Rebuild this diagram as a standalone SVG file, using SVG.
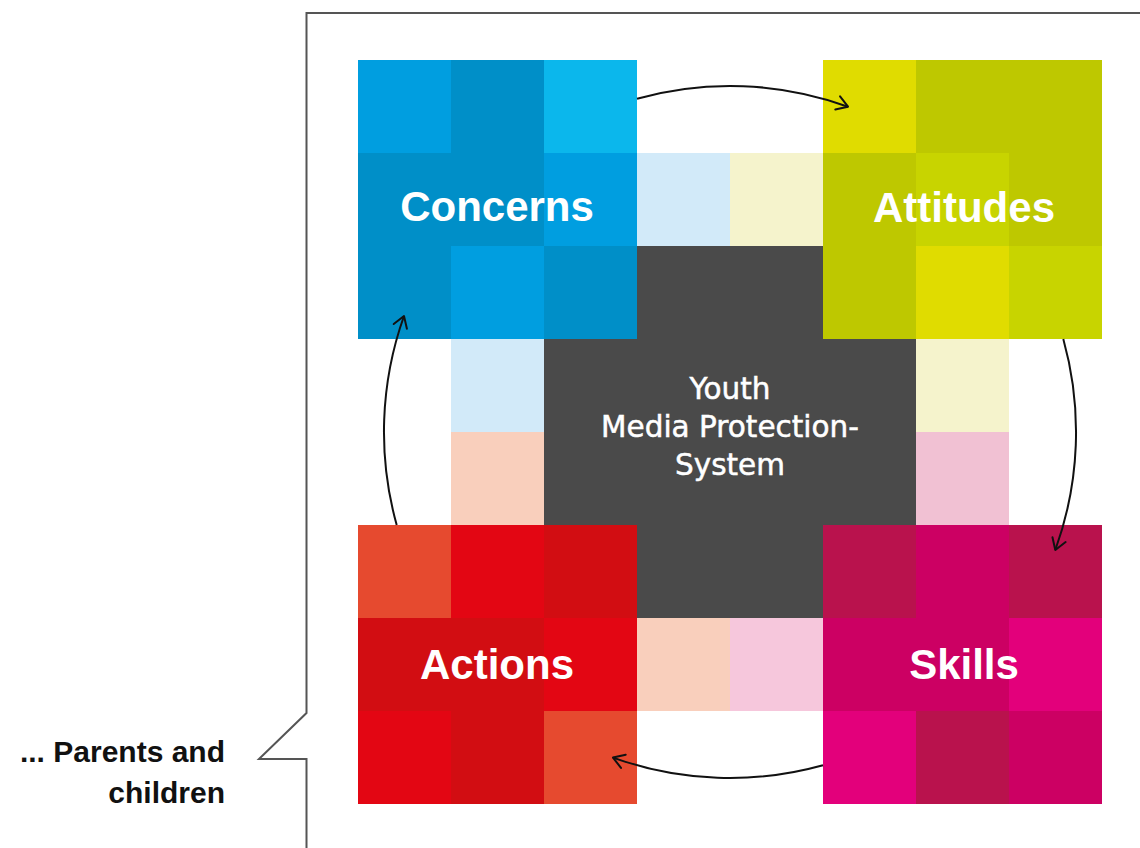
<svg xmlns="http://www.w3.org/2000/svg" width="1140" height="848" viewBox="0 0 1140 848">
  <style>
    .b1{fill:#009ee0}.b2{fill:#008fc8}.b3{fill:#0bb7ec}
    .y1{fill:#e0dc00}.y2{fill:#bec800}.y3{fill:#c8d400}
    .r1{fill:#e64a2f}.r2{fill:#e30613}.r3{fill:#d20d12}
    .m1{fill:#b9124d}.m2{fill:#cc0063}.m3{fill:#e3007b}
    .lb{fill:#d2eaf9}.ly{fill:#f5f3cc}.lp{fill:#f9cfbc}.lk{fill:#f1c1d3}.lq{fill:#f6c7dc}
    .dark{fill:#4a4a4a}
    .label{font-family:"Liberation Sans",Arial,sans-serif;font-weight:bold;font-size:42px;fill:#ffffff;text-anchor:middle}
    .core{font-family:"DejaVu Sans","Liberation Sans",sans-serif;font-size:29.5px;fill:#ffffff;stroke:#ffffff;stroke-width:0.5;text-anchor:middle}
    .note{font-family:"Liberation Sans",Arial,sans-serif;font-weight:bold;font-size:30px;fill:#111111;text-anchor:end}
    .frame{fill:none;stroke:#555555;stroke-width:2}
    .flow{fill:none;stroke:#111111;stroke-width:2}
  </style>
  <defs>
    <marker id="head" markerUnits="userSpaceOnUse" markerWidth="30" markerHeight="30" viewBox="-15 -15 30 30" refX="0" refY="0" orient="auto" overflow="visible">
      <path d="M-11,-7 L0,0 L-11,7" fill="none" stroke="#111111" stroke-width="2" stroke-linejoin="round" stroke-linecap="round"/>
    </marker>
  </defs>

  <rect width="1140" height="848" fill="#ffffff"/>

  <!-- frame with callout notch -->
  <g id="callout">
    <path class="frame" d="M1140,13 H306.5 V713 L259,759 H306.5 V848"/>
    <text class="note" x="225" y="762">... Parents and</text>
    <text class="note" x="225" y="803">children</text>
  </g>

  <!-- pale fill cells between the blocks -->
  <g id="fillers">
    <rect class="lb" x="637" y="153" width="93" height="93"/>
    <rect class="ly" x="730" y="153" width="93" height="93"/>
    <rect class="lb" x="451" y="339" width="93" height="93"/>
    <rect class="ly" x="916" y="339" width="93" height="93"/>
    <rect class="lp" x="451" y="432" width="93" height="93"/>
    <rect class="lk" x="916" y="432" width="93" height="93"/>
    <rect class="lp" x="637" y="618" width="93" height="93"/>
    <rect class="lq" x="730" y="618" width="93" height="93"/>
  </g>

  <!-- central system -->
  <g id="system">
    <path class="dark" d="M637,246 H823 V339 H916 V525 H823 V618 H637 V525 H544 V339 H637 Z"/>
    <text class="core" x="730" y="399">Youth</text>
    <text class="core" x="730" y="437">Media Protection-</text>
    <text class="core" x="730" y="475">System</text>
  </g>

  <g id="concerns">
    <rect class="b1" x="358" y="60" width="93" height="93"/>
    <rect class="b2" x="451" y="60" width="93" height="93"/>
    <rect class="b3" x="544" y="60" width="93" height="93"/>
    <rect class="b2" x="358" y="153" width="93" height="93"/>
    <rect class="b2" x="451" y="153" width="93" height="93"/>
    <rect class="b1" x="544" y="153" width="93" height="93"/>
    <rect class="b2" x="358" y="246" width="93" height="93"/>
    <rect class="b1" x="451" y="246" width="93" height="93"/>
    <rect class="b2" x="544" y="246" width="93" height="93"/>
    <text class="label" x="497" y="221">Concerns</text>
  </g>

  <g id="attitudes">
    <rect class="y1" x="823" y="60" width="93" height="93"/>
    <rect class="y2" x="916" y="60" width="93" height="93"/>
    <rect class="y2" x="1009" y="60" width="93" height="93"/>
    <rect class="y2" x="823" y="153" width="93" height="93"/>
    <rect class="y3" x="916" y="153" width="93" height="93"/>
    <rect class="y2" x="1009" y="153" width="93" height="93"/>
    <rect class="y2" x="823" y="246" width="93" height="93"/>
    <rect class="y1" x="916" y="246" width="93" height="93"/>
    <rect class="y3" x="1009" y="246" width="93" height="93"/>
    <text class="label" x="964" y="222">Attitudes</text>
  </g>

  <g id="actions">
    <rect class="r1" x="358" y="525" width="93" height="93"/>
    <rect class="r2" x="451" y="525" width="93" height="93"/>
    <rect class="r3" x="544" y="525" width="93" height="93"/>
    <rect class="r3" x="358" y="618" width="93" height="93"/>
    <rect class="r3" x="451" y="618" width="93" height="93"/>
    <rect class="r2" x="544" y="618" width="93" height="93"/>
    <rect class="r2" x="358" y="711" width="93" height="93"/>
    <rect class="r3" x="451" y="711" width="93" height="93"/>
    <rect class="r1" x="544" y="711" width="93" height="93"/>
    <text class="label" x="497" y="679">Actions</text>
  </g>

  <g id="skills">
    <rect class="m1" x="823" y="525" width="93" height="93"/>
    <rect class="m2" x="916" y="525" width="93" height="93"/>
    <rect class="m1" x="1009" y="525" width="93" height="93"/>
    <rect class="m2" x="823" y="618" width="93" height="93"/>
    <rect class="m2" x="916" y="618" width="93" height="93"/>
    <rect class="m3" x="1009" y="618" width="93" height="93"/>
    <rect class="m3" x="823" y="711" width="93" height="93"/>
    <rect class="m1" x="916" y="711" width="93" height="93"/>
    <rect class="m2" x="1009" y="711" width="93" height="93"/>
    <text class="label" x="964" y="679">Skills</text>
  </g>

  <!-- clockwise cycle, all arcs on one circle around the centre -->
  <g id="connectors">
    <path class="flow" marker-end="url(#head)" d="M637,98.7 A346,346 0 0 1 848,106.7"/>
    <path class="flow" marker-end="url(#head)" d="M1063.3,339 A346,346 0 0 1 1055.3,550"/>
    <path class="flow" marker-end="url(#head)" d="M823,765.3 A346,346 0 0 1 613,757.6"/>
    <path class="flow" marker-end="url(#head)" d="M396.7,525 A346,346 0 0 1 404,316"/>
  </g>
</svg>
